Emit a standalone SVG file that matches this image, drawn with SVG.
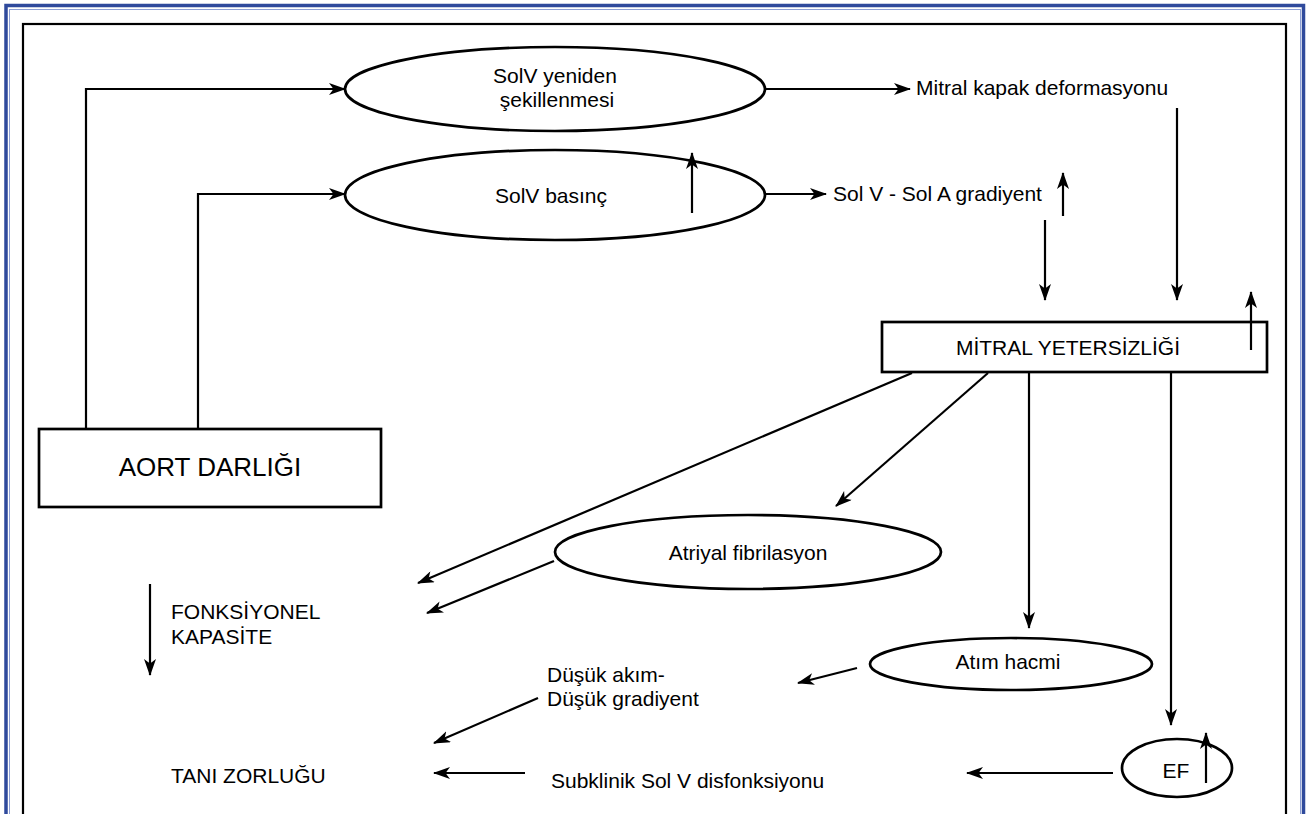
<svg xmlns="http://www.w3.org/2000/svg" width="1308" height="814" viewBox="0 0 1308 814">
<defs>
<style>
.shape{fill:#fff;stroke:#000;stroke-width:2.7}
.lbl{font-family:"Liberation Sans",Arial,Helvetica,sans-serif;font-size:21px;fill:#000}
.mid{text-anchor:middle}
.conn{fill:none;stroke:#000;stroke-width:2.2;marker-end:url(#ah)}
</style>
<marker id="ah" markerUnits="userSpaceOnUse" viewBox="0 0 17 12" refX="16" refY="6" markerWidth="17" markerHeight="12" orient="auto">
<path d="M0,0 L17,6 L0,12 L4.5,6 Z" fill="#000"/>
</marker>
</defs>
<rect width="1308" height="814" fill="#fff"/>
<g id="frame">
<rect x="6" y="5.5" width="1297.5" height="830" fill="none" stroke="#2f4a9c" stroke-width="3.5"/>
<rect x="9.5" y="9.5" width="1291" height="830" fill="none" stroke="#8d9fd4" stroke-width="1"/>
<rect x="23" y="24" width="1263" height="820" fill="none" stroke="#000" stroke-width="2.2"/>
</g>
<g id="connectors">
<polyline class="conn" points="86,429 86,89 345,89"/>
<polyline class="conn" points="198,429 198,194 345,194"/>
<line class="conn" x1="765" y1="89" x2="910" y2="89"/>
<line class="conn" x1="765" y1="194" x2="826" y2="194"/>
<line class="conn" x1="1177" y1="108" x2="1177" y2="300"/>
<line class="conn" x1="1045" y1="220" x2="1045" y2="300"/>
<line class="conn" x1="912" y1="373" x2="418" y2="583"/>
<line class="conn" x1="988" y1="373" x2="836" y2="506"/>
<line class="conn" x1="1029" y1="373" x2="1029" y2="628"/>
<line class="conn" x1="1171" y1="373" x2="1171" y2="725"/>
<line class="conn" x1="554" y1="561" x2="427" y2="613"/>
<line class="conn" x1="857" y1="668" x2="798" y2="683"/>
<line class="conn" x1="538" y1="698" x2="434" y2="743"/>
<line class="conn" x1="1113" y1="773" x2="967" y2="773"/>
<line class="conn" x1="525" y1="773" x2="434" y2="773"/>
</g>
<g id="n-aort">
<rect class="shape" x="39" y="429" width="342" height="78"/>
<text class="lbl mid" x="210" y="476" style="font-size:26px">AORT DARLIĞI</text>
</g>
<g id="n-remodel">
<ellipse class="shape" cx="555" cy="89" rx="210" ry="42"/>
<text class="lbl mid" x="555" y="83">SolV yeniden</text>
<text class="lbl mid" x="557" y="107">şekillenmesi</text>
</g>
<g id="n-pressure">
<ellipse class="shape" cx="555" cy="195" rx="210" ry="45"/>
<text class="lbl mid" x="551" y="203">SolV basınç</text>
<line class="conn" x1="692" y1="213" x2="692" y2="153"/>
</g>
<g id="n-deform">
<text class="lbl" x="916" y="95">Mitral kapak deformasyonu</text>
</g>
<g id="n-gradient">
<text class="lbl" x="833" y="201">Sol V - Sol A gradiyent</text>
<line class="conn" x1="1063" y1="216" x2="1063" y2="173"/>
</g>
<g id="n-mr">
<rect class="shape" x="882" y="322" width="385" height="50"/>
<text class="lbl mid" x="1068" y="355">MİTRAL YETERSİZLİĞİ</text>
<line class="conn" x1="1251" y1="350" x2="1251" y2="292"/>
</g>
<g id="n-af">
<ellipse class="shape" cx="748" cy="552" rx="193" ry="37"/>
<text class="lbl mid" x="748" y="560">Atriyal fibrilasyon</text>
</g>
<g id="n-sv">
<ellipse class="shape" cx="1011" cy="664" rx="141" ry="26"/>
<text class="lbl mid" x="1008" y="669">Atım hacmi</text>
</g>
<g id="n-ef">
<ellipse class="shape" cx="1177" cy="768" rx="55" ry="29"/>
<text class="lbl mid" x="1176" y="778">EF</text>
<line class="conn" x1="1206" y1="783" x2="1206" y2="733"/>
</g>
<g id="n-fk">
<line class="conn" x1="150" y1="584" x2="150" y2="675"/>
<text class="lbl" x="171" y="619">FONKSİYONEL</text>
<text class="lbl" x="171" y="644">KAPASİTE</text>
</g>
<g id="n-lowflow">
<text class="lbl" x="547" y="682">Düşük akım-</text>
<text class="lbl" x="547" y="706">Düşük gradiyent</text>
</g>
<g id="n-dx">
<text class="lbl" x="171" y="783">TANI ZORLUĞU</text>
</g>
<g id="n-subclin">
<text class="lbl" x="551" y="788">Subklinik Sol V disfonksiyonu</text>
</g>
</svg>
